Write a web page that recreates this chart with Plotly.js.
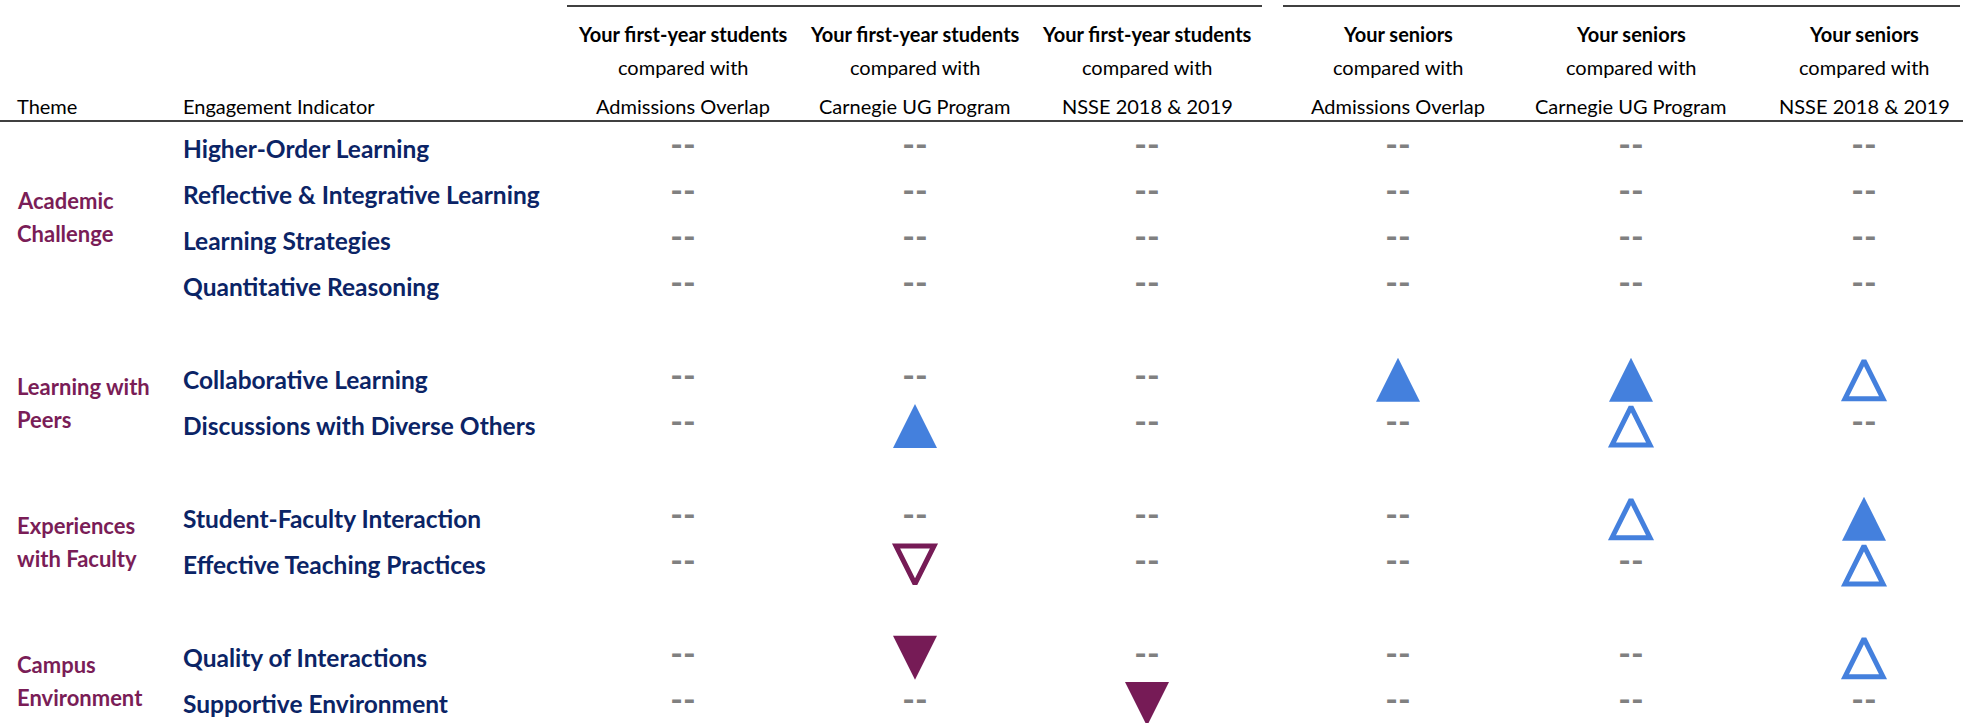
<!DOCTYPE html>
<html>
<head>
<meta charset="utf-8">
<script src="https://cdn.plot.ly/plotly-3.0.1.min.js"></script>
<style>html,body{margin:0;padding:0;background:#fff;}#chart{width:1963px;height:723px;}</style>
</head>
<body>
<div id="chart"></div>
<script>
// ---------------- DATA ----------------
const themeLines = [["Academic", "Challenge"], ["Learning with", "Peers"], ["Experiences", "with Faculty"], ["Campus", "Environment"]];
const indicators = [
  "Higher-Order Learning", "Reflective & Integrative Learning", "Learning Strategies", "Quantitative Reasoning",
  "Collaborative Learning", "Discussions with Diverse Others",
  "Student-Faculty Interaction", "Effective Teaching Practices",
  "Quality of Interactions", "Supportive Environment"
];
const indicatorTheme = [0, 0, 0, 0, 1, 1, 2, 2, 3, 3];
const classLevels = ["Your first-year students", "Your seniors"];
const comparedWith = "compared with";
const comparisonGroups = ["Admissions Overlap", "Carnegie UG Program", "NSSE 2018 & 2019"];
// codes: 2 = ▲ higher (large effect), 1 = △ higher, 0 = -- no difference, -1 = ▽ lower, -2 = ▼ lower (large effect)
const fyAdmissions = [0, 0, 0, 0, 0, 0, 0, 0, 0, 0];
const fyCarnegie   = [0, 0, 0, 0, 0, 2, 0, -1, -2, 0];
const fyNSSE       = [0, 0, 0, 0, 0, 0, 0, 0, 0, -2];
const srAdmissions = [0, 0, 0, 0, 2, 0, 0, 0, 0, 0];
const srCarnegie   = [0, 0, 0, 0, 2, 1, 1, 0, 0, 0];
const srNSSE       = [0, 0, 0, 0, 1, 0, 2, 1, 1, 0];
const columnsByLevel = [[fyAdmissions, fyCarnegie, fyNSSE], [srAdmissions, srCarnegie, srNSSE]];

// ---------------- LAYOUT HELPERS ----------------
const W = 1963, H = 723;
const py = px => 1 - px / H;
const FONT = "Lato, 'Open Sans', sans-serif";
const BLUE = "#4480dd", MAROON = "#761b56", NAVY = "#0b2466", THEME_C = "#7a1d57", GRAY = "#808080";

// row positions: one blank row between themes
const rowPos = [];
(function () { let p = 0; indicatorTheme.forEach((t, i) => { if (i > 0 && t !== indicatorTheme[i - 1]) p += 1; rowPos.push(p); p += 1; }); })();
const rowTopPx = 148, rowStepPx = 46.33;
const yRange = [(H - rowTopPx) / rowStepPx, -rowTopPx / rowStepPx];

// axis geometry (pixels) for the two groups
const groups = [
  {x0: 567, x1: 1262, c0: 683, step: 232},
  {x0: 1283, x1: 1960, c0: 1398, step: 233}
];

const styles = {
  "2":  {symbol: "arrow-down", angle: 180, size: 44, color: BLUE, lw: 0},
  "1":  {symbol: "arrow-down-open", angle: 180, size: 38, color: BLUE, lw: 5},
  "-1": {symbol: "arrow-down-open", angle: 0, size: 38, color: MAROON, lw: 5},
  "-2": {symbol: "arrow-down", angle: 0, size: 44, color: MAROON, lw: 0}
};

const traces = [];
columnsByLevel.forEach((cols, L) => {
  const xa = L === 0 ? "x" : "x2";
  [0, 2, 1, -1, -2].forEach(code => {
    const xs = [], ys = [];
    cols.forEach((vals, c) => vals.forEach((v, r) => { if (v === code) { xs.push(c); ys.push(rowPos[r]); } }));
    if (!xs.length) return;
    if (code === 0) {
      traces.push({type: "scatter", mode: "text", x: xs, y: ys, xaxis: xa, yaxis: "y",
        text: xs.map(() => "--"), textposition: "middle center",
        textfont: {family: FONT, size: 34, color: GRAY, weight: "bold"}, hoverinfo: "skip", showlegend: false});
    } else {
      const s = styles[String(code)];
      traces.push({type: "scatter", mode: "markers", x: xs, y: ys, xaxis: xa, yaxis: "y",
        marker: {symbol: s.symbol, angle: s.angle, standoff: s.size / 2, size: s.size, color: s.color,
          line: {color: s.color, width: s.lw}}, hoverinfo: "skip", showlegend: false});
    }
  });
});

const HDR = 20;
const annotations = [];
const hdrY = [34, 67, 106];
classLevels.forEach((lvl, L) => {
  comparisonGroups.forEach((g, c) => {
    const xr = L === 0 ? "x" : "x2";
    annotations.push({xref: xr, yref: "paper", x: c, y: py(hdrY[0]), text: "<b>" + lvl + "</b>", showarrow: false,
      xanchor: "center", yanchor: "middle", font: {family: FONT, size: HDR, color: "#000"}});
    annotations.push({xref: xr, yref: "paper", x: c, y: py(hdrY[1]), text: comparedWith, showarrow: false,
      xanchor: "center", yanchor: "middle", font: {family: FONT, size: HDR, color: "#000"}});
    annotations.push({xref: xr, yref: "paper", x: c, y: py(hdrY[2]), text: g, showarrow: false,
      xanchor: "center", yanchor: "middle", font: {family: FONT, size: HDR, color: "#000"}});
  });
});
annotations.push({xref: "paper", yref: "paper", x: 15 / W, y: py(hdrY[2]), text: "Theme", showarrow: false,
  xanchor: "left", yanchor: "middle", font: {family: FONT, size: HDR, color: "#000"}});
annotations.push({xref: "paper", yref: "paper", x: 180.5 / W, y: py(hdrY[2]), text: "Engagement Indicator", showarrow: false,
  xanchor: "left", yanchor: "middle", font: {family: FONT, size: HDR, color: "#000"}});

indicators.forEach((name, i) => {
  annotations.push({xref: "paper", yref: "y", x: 180.5 / W, y: rowPos[i], text: "<b>" + name + "</b>", showarrow: false,
    xanchor: "left", yanchor: "middle", font: {family: FONT, size: 24.5, color: NAVY}});
});
themeLines.forEach((lines, t) => {
  const rows = rowPos.filter((p, i) => indicatorTheme[i] === t);
  const mid = (rows[0] + rows[rows.length - 1]) / 2;
  lines.forEach((ln, k) => {
    annotations.push({xref: "paper", yref: "y", x: 15 / W, y: mid, yshift: k === 0 ? 16.5 : -16.5, text: "<b>" + ln + "</b>",
      showarrow: false, xanchor: "left", yanchor: "middle", font: {family: FONT, size: 22, color: THEME_C}});
  });
});

const shapes = [
  {type: "line", xref: "paper", yref: "paper", x0: 0, x1: 1, y0: py(121), y1: py(121), line: {color: "#000", width: 1.5}},
  {type: "line", xref: "x domain", yref: "paper", x0: 0, x1: 1, y0: py(6), y1: py(6), line: {color: "#000", width: 1.5}},
  {type: "line", xref: "x2 domain", yref: "paper", x0: 0, x1: 1, y0: py(6), y1: py(6), line: {color: "#000", width: 1.5}}
];

function xAxisFor(g) {
  const r0 = -(g.c0 - g.x0) / g.step;
  const r1 = r0 + (g.x1 - g.x0) / g.step;
  return {domain: [g.x0 / W, g.x1 / W], range: [r0, r1], visible: false, fixedrange: true};
}

const layout = {
  width: W, height: H, margin: {l: 0, r: 0, t: 0, b: 0, pad: 0},
  paper_bgcolor: "#fff", plot_bgcolor: "#fff", showlegend: false,
  xaxis: xAxisFor(groups[0]),
  xaxis2: Object.assign(xAxisFor(groups[1]), {anchor: "y"}),
  yaxis: {domain: [0, 1], range: yRange, visible: false, fixedrange: true},
  annotations: annotations, shapes: shapes
};
Plotly.newPlot("chart", traces, layout, {staticPlot: true, displayModeBar: false});
</script>
</body>
</html>
